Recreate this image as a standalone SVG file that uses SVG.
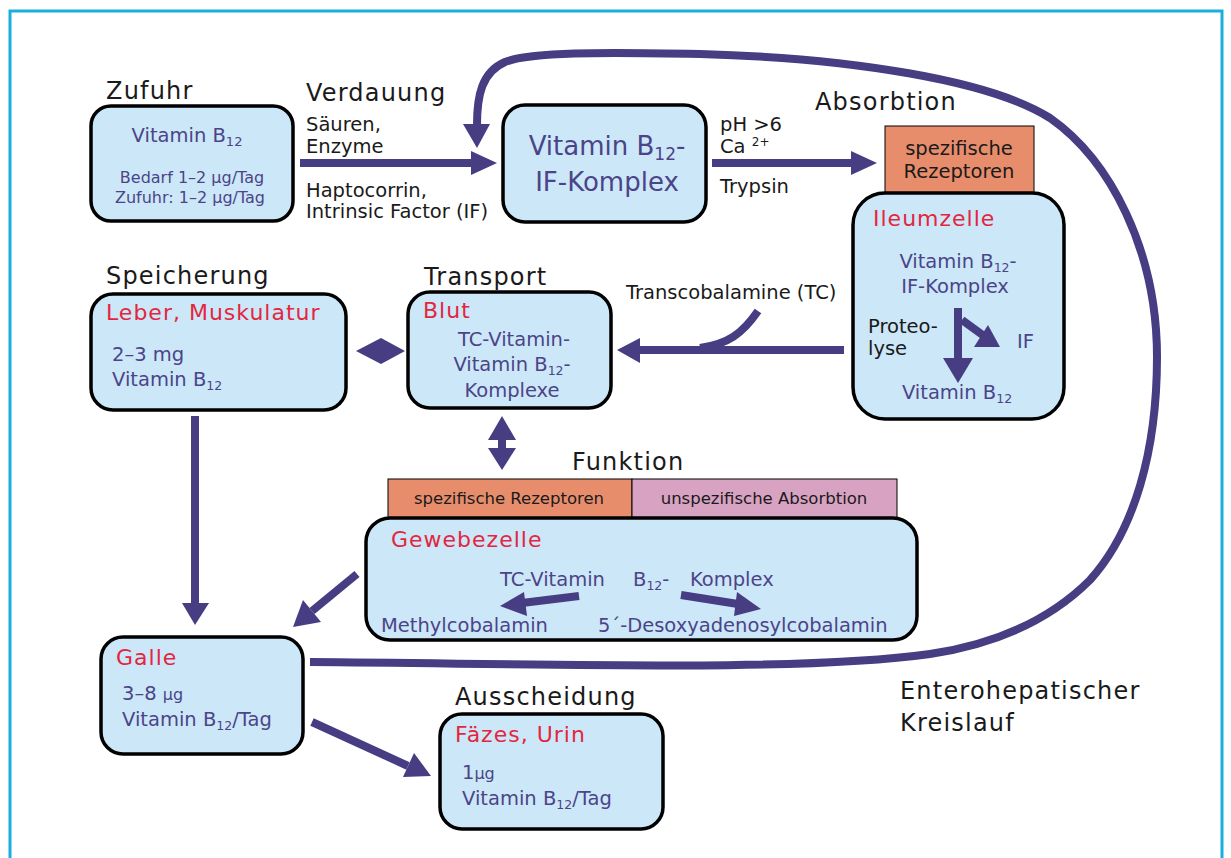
<svg xmlns="http://www.w3.org/2000/svg" width="1231" height="858" viewBox="0 0 1231 858">
<style>
text{font-family:"DejaVu Sans","Liberation Sans",sans-serif}
.hd{font-size:24px;fill:#1a1a1a;letter-spacing:1.2px}
.lb{font-size:19.5px;fill:#1a1a1a}
.rd{font-size:22px;fill:#e3263f;letter-spacing:1px}
.pu{font-size:19.5px;fill:#4b4488}
.sm{font-size:16px;fill:#4b4488}
.box{fill:#cce7f8;stroke:#000;stroke-width:3.5}
.ar{stroke:#463d82;stroke-width:8;fill:none}
.ah{fill:#463d82}
.mid{text-anchor:middle}
</style>
<rect x="10" y="11" width="1212" height="870" fill="#fff" stroke="#1aaee0" stroke-width="3"/>

<g id="zufuhr">
  <text class="hd" x="106" y="99">Zufuhr</text>
  <rect class="box" x="91" y="106" width="202" height="115" rx="20"/>
  <text class="pu mid" x="187" y="142">Vitamin B<tspan font-size="13" dy="4">12</tspan></text>
  <text class="sm mid" x="192" y="183">Bedarf 1–2 µg/Tag</text>
  <text class="sm mid" x="190" y="203">Zufuhr: 1–2 µg/Tag</text>
</g>

<g id="verdauung">
  <text class="hd" x="306" y="101">Verdauung</text>
  <text class="lb" x="306" y="131">Säuren,</text>
  <text class="lb" x="306" y="153">Enzyme</text>
  <text class="lb" x="306" y="197">Haptocorrin,</text>
  <text class="lb" x="306" y="218">Intrinsic Factor (IF)</text>
</g>

<g id="komplex">
  <rect class="box" x="503" y="105" width="203" height="117" rx="22"/>
  <text class="mid" x="607" y="155" font-size="26" fill="#4b4488">Vitamin B<tspan font-size="17" dy="5">12</tspan><tspan dy="-5">-</tspan></text>
  <text class="mid" x="607" y="191" font-size="26" fill="#4b4488">IF-Komplex</text>
</g>

<g id="absorbtion-label">
  <text class="lb" x="720" y="131">pH &gt;6</text>
  <text class="lb" x="720" y="153">Ca <tspan font-size="12" dy="-7">2+</tspan></text>
  <text class="lb" x="720" y="193">Trypsin</text>
  <text class="hd" x="815" y="110">Absorbtion</text>
</g>

<g id="rezeptoren-top">
  <rect x="885" y="126" width="149" height="67" fill="#e88d6c" stroke="#000" stroke-width="1"/>
  <text class="lb mid" x="959" y="155" font-size="19">spezifische</text>
  <text class="lb mid" x="959" y="178" font-size="19">Rezeptoren</text>
</g>

<g id="ileumzelle">
  <rect class="box" x="853" y="193" width="211" height="226" rx="32"/>
  <text class="rd" x="873" y="226">Ileumzelle</text>
  <text class="pu mid" x="958" y="268">Vitamin B<tspan font-size="12.5" dy="4">12</tspan><tspan dy="-4">-</tspan></text>
  <text class="pu mid" x="955" y="293">IF-Komplex</text>
  <text class="lb" x="868" y="333">Proteo-</text>
  <text class="lb" x="868" y="355">lyse</text>
  <text class="pu" x="1017" y="348">IF</text>
  <text class="pu mid" x="957" y="399">Vitamin B<tspan font-size="12.5" dy="4">12</tspan></text>
</g>

<g id="speicherung">
  <text class="hd" x="106" y="284">Speicherung</text>
  <rect class="box" x="91" y="294" width="255" height="116" rx="22"/>
  <text class="rd" x="106" y="320">Leber, Muskulatur</text>
  <text class="pu" x="112" y="361">2–3 mg</text>
  <text class="pu" x="112" y="386">Vitamin B<tspan font-size="12.5" dy="4">12</tspan></text>
</g>

<g id="transport">
  <text class="hd" x="424" y="285">Transport</text>
  <rect class="box" x="408" y="292" width="203" height="116" rx="22"/>
  <text class="rd" x="423" y="318">Blut</text>
  <text class="pu mid" x="514" y="346">TC-Vitamin-</text>
  <text class="pu mid" x="512" y="371">Vitamin B<tspan font-size="12.5" dy="4">12</tspan><tspan dy="-4">-</tspan></text>
  <text class="pu mid" x="512" y="397">Komplexe</text>
  <text class="lb" x="626" y="299">Transcobalamine (TC)</text>
</g>

<g id="funktion">
  <text class="hd" x="572" y="470">Funktion</text>
  <rect x="388" y="479" width="244" height="39" fill="#e88d6c" stroke="#000" stroke-width="1"/>
  <rect x="632" y="479" width="265" height="39" fill="#d8a2c2" stroke="#000" stroke-width="1"/>
  <text class="mid" x="509" y="504" font-size="16.5" fill="#1a1a1a">spezifische Rezeptoren</text>
  <text class="mid" x="764" y="504" font-size="16.5" fill="#1a1a1a">unspezifische Absorbtion</text>
</g>

<g id="gewebezelle">
  <rect class="box" x="366" y="518" width="551" height="122" rx="24"/>
  <text class="rd" x="391" y="547">Gewebezelle</text>
  <text class="pu" x="500" y="586">TC-Vitamin</text>
  <text class="pu" x="633" y="586">B<tspan font-size="12.5" dy="4">12</tspan><tspan dy="-4">-</tspan></text>
  <text class="pu" x="690" y="586">Komplex</text>
  <text class="pu" x="381" y="632">Methylcobalamin</text>
  <text class="pu" x="598" y="632">5´-Desoxyadenosylcobalamin</text>
</g>

<g id="galle">
  <rect class="box" x="101" y="637" width="202" height="117" rx="22"/>
  <text class="rd" x="116" y="665">Galle</text>
  <text class="pu" x="122" y="700">3–8 <tspan font-size="16">µg</tspan></text>
  <text class="pu" x="122" y="726">Vitamin B<tspan font-size="12.5" dy="4">12</tspan><tspan dy="-4">/Tag</tspan></text>
</g>

<g id="ausscheidung">
  <text class="hd" x="455" y="705">Ausscheidung</text>
  <rect class="box" x="440" y="714" width="223" height="115" rx="22"/>
  <text class="rd" x="455" y="742">Fäzes, Urin</text>
  <text class="pu" x="462" y="779">1<tspan font-size="16">µg</tspan></text>
  <text class="pu" x="462" y="805">Vitamin B<tspan font-size="12.5" dy="4">12</tspan><tspan dy="-4">/Tag</tspan></text>
</g>

<g id="kreislauf-label">
  <text class="hd" x="900" y="699">Enterohepatischer</text>
  <text class="hd" x="900" y="731">Kreislauf</text>
</g>

<g id="connectors">
  <path class="ar" stroke-width="7" d="M310,662 C560,664 800,672 930,654 C1010,642 1060,610 1090,580 C1135,530 1157,450 1157,357 C1157,250 1110,160 1050,118 C990,80 850,58 700,54 C600,52 530,52 505,62 C482,72 477,95 477,125"/>
  <polygon class="ah" points="463,124 490,124 477,148"/>
  <line class="ar" x1="300" y1="163" x2="472" y2="163"/>
  <polygon class="ah" points="471,151 497,163 471,175"/>
  <line class="ar" x1="712" y1="163" x2="852" y2="163"/>
  <polygon class="ah" points="851,151 877,163 851,175"/>
  <line class="ar" x1="844" y1="350" x2="638" y2="350"/>
  <polygon class="ah" points="640,338 617,350 640,363"/>
  <path class="ar" stroke-width="6" d="M758,311 C742,334 728,344 700,348"/>
  <polygon class="ah" points="356,351 381,338 405,351 381,364"/>
  <line class="ar" x1="502" y1="436" x2="502" y2="450"/>
  <polygon class="ah" points="488,440 502,416 516,440"/>
  <polygon class="ah" points="488,448 516,448 502,470"/>
  <line class="ar" x1="195" y1="416" x2="195" y2="605"/>
  <polygon class="ah" points="182,603 209,603 195,625"/>
  <line class="ar" stroke-width="7" x1="357" y1="574" x2="312" y2="611"/>
  <polygon class="ah" points="321,622 303,600 293,627"/>
  <line class="ar" stroke-width="7" x1="579" y1="596" x2="522" y2="603"/>
  <polygon class="ah" points="524,592 500,606 527,616"/>
  <line class="ar" stroke-width="7" x1="681" y1="595" x2="738" y2="604"/>
  <polygon class="ah" points="737,592 761,609 734,616"/>
  <line class="ar" stroke-width="7" x1="312" y1="722" x2="408" y2="766"/>
  <polygon class="ah" points="403,777 414,753 431,776"/>
  <line class="ar" x1="958" y1="308" x2="958" y2="360"/>
  <polygon class="ah" points="943,358 973,358 958,383"/>
  <line class="ar" stroke-width="7" x1="962" y1="320" x2="984" y2="336"/>
  <polygon class="ah" points="974,347 988,325 1000,347"/>
</g>
</svg>
